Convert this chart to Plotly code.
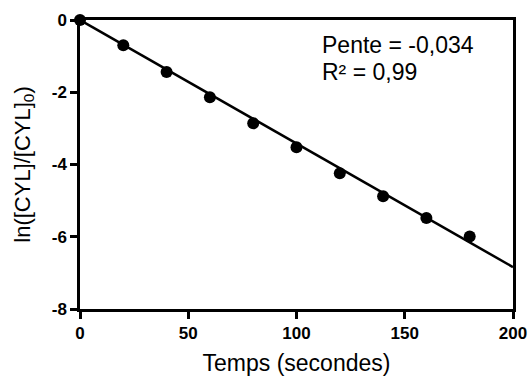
import plotly.graph_objects as go

# Data
time_s = [0, 20, 40, 60, 80, 100, 120, 140, 160, 180]
ln_ratio = [0.0, -0.70, -1.44, -2.14, -2.86, -3.52, -4.24, -4.88, -5.48, -5.99]

fit_x = [0, 200]
fit_y = [0.0, -6.84]

x_ticks = [0, 50, 100, 150, 200]
y_ticks = [0, -2, -4, -6, -8]

annot_lines = ["Pente = -0,034", "R² = 0,99"]
annot_x = [111, 111]
annot_y = [-0.68, -1.44]

FONT = "Liberation Sans, Arial, sans-serif"

fig = go.Figure()
fig.add_trace(go.Scatter(x=fit_x, y=fit_y, mode="lines",
                         line=dict(color="black", width=2.5),
                         showlegend=False, hoverinfo="skip"))
fig.add_trace(go.Scatter(x=time_s, y=ln_ratio, mode="markers",
                         marker=dict(color="black", size=12),
                         cliponaxis=False, showlegend=False))

for txt, ax, ay in zip(annot_lines, annot_x, annot_y):
    fig.add_annotation(x=ax, y=ay, xref="x", yref="y", text=txt,
                       showarrow=False, xanchor="left", yanchor="middle",
                       font=dict(family=FONT, size=23, color="black"))

axis_common = dict(
    showline=True, linecolor="black", linewidth=2.5, mirror=True,
    ticks="outside", tickcolor="black", tickwidth=2.5, ticklen=7,
    showgrid=False, zeroline=False, automargin=False,
    tickfont=dict(family=FONT, size=17, color="black", weight="bold"),
)

fig.update_xaxes(range=[0, 200], tickvals=x_ticks, ticktext=[str(v) for v in x_ticks],
                 title=dict(text="Temps (secondes)", font=dict(family=FONT, size=23, color="black"),
                            standoff=13),
                 **axis_common)
fig.update_yaxes(range=[-8, 0], tickvals=y_ticks, ticktext=[str(v) for v in y_ticks],
                 title=dict(text="ln([CYL]/[CYL]<sub>0</sub>)",
                            font=dict(family=FONT, size=22, color="black"), standoff=16),
                 **axis_common)

fig.update_layout(width=532, height=376, autosize=False,
                  margin=dict(l=80, r=19, t=20, b=67),
                  plot_bgcolor="white", paper_bgcolor="white",
                  font=dict(family=FONT, color="black"))

fig.write_html("out.html", config={"displayModeBar": False},
               post_script="document.body.style.margin='0px';")
